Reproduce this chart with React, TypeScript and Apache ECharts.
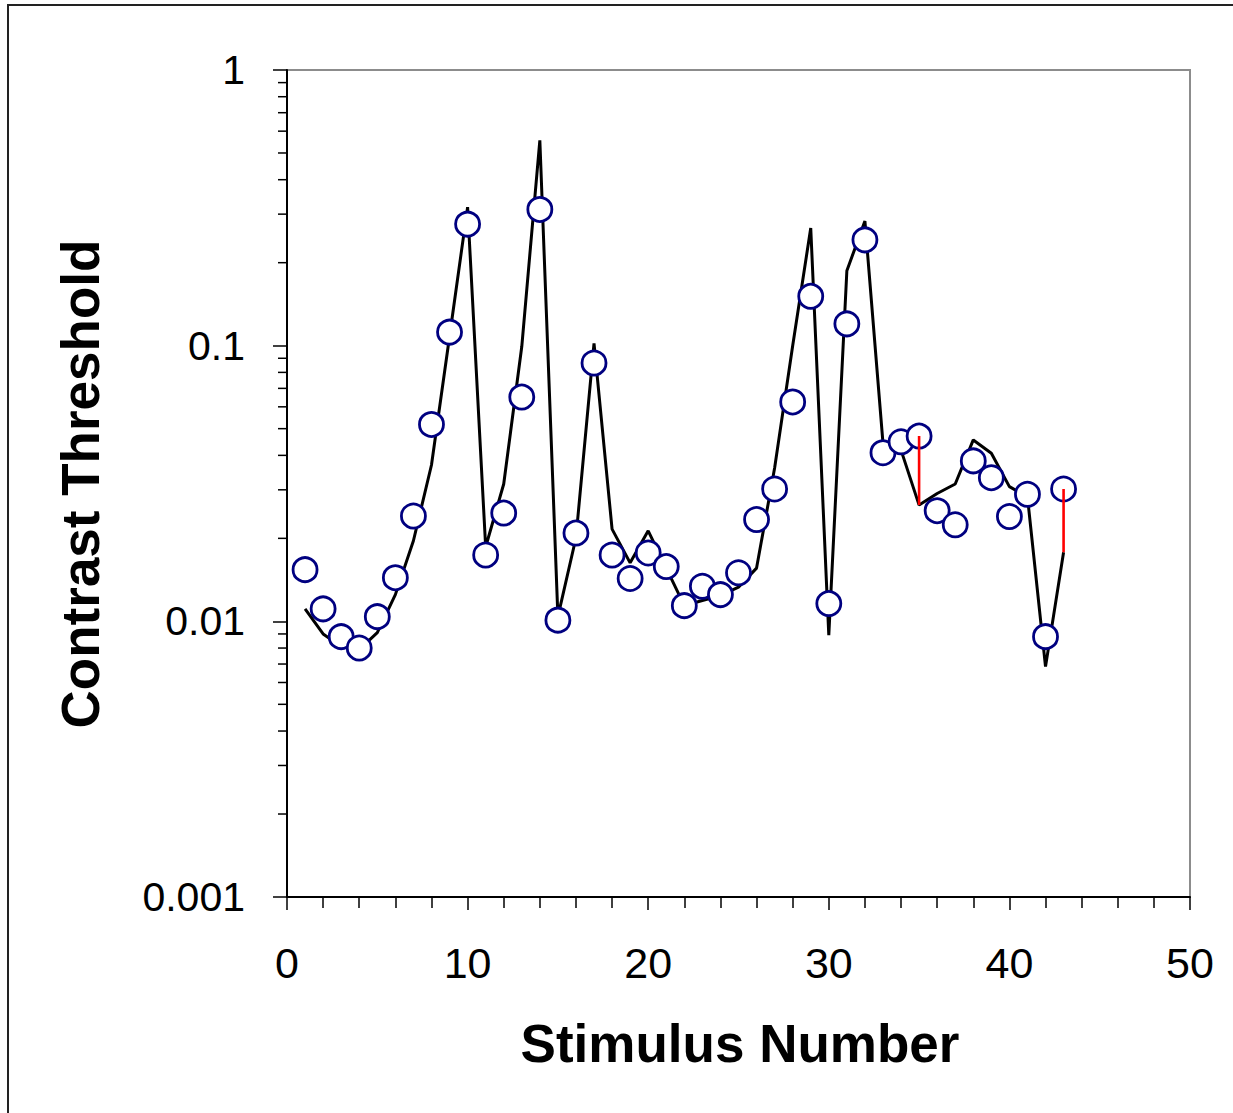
import React, { useEffect, useRef } from "react";
import * as echarts from "echarts";

// Stimulus numbers (x)
const stimulus = [
  1, 2, 3, 4, 5, 6, 7, 8, 9, 10, 11, 12, 13, 14, 15, 16, 17, 18, 19, 20, 21,
  22, 23, 24, 25, 26, 27, 28, 29, 30, 31, 32, 33, 34, 35, 36, 37, 38, 39, 40,
  41, 42, 43,
];

// Measured contrast thresholds (open circles)
const measuredThreshold = [
  0.0154, 0.0111, 0.0088, 0.0080, 0.0104, 0.0144, 0.0241, 0.0518, 0.112,
  0.276, 0.0174, 0.0247, 0.0651, 0.312, 0.0101, 0.0209, 0.0865, 0.0174,
  0.0143, 0.0177, 0.0158, 0.0114, 0.0134, 0.0125, 0.0150, 0.0234, 0.0302,
  0.0625, 0.151, 0.0116, 0.120, 0.242, 0.0409, 0.0448, 0.0470, 0.0252,
  0.0224, 0.0382, 0.0332, 0.0240, 0.0289, 0.0088, 0.0302,
];

// Model prediction (black line)
const modelThreshold = [
  0.0111, 0.0090, 0.0081, 0.0079, 0.0091, 0.0125, 0.0196, 0.0369, 0.108,
  0.318, 0.0186, 0.0315, 0.0993, 0.556, 0.0104, 0.0201, 0.102, 0.0216,
  0.0163, 0.0213, 0.0156, 0.0114, 0.0119, 0.0124, 0.0133, 0.0156, 0.0360,
  0.100, 0.267, 0.0089, 0.187, 0.283, 0.0443, 0.0418, 0.0264, 0.0291,
  0.0315, 0.0455, 0.0407, 0.0308, 0.0283, 0.00685, 0.0178,
];

// Stimuli whose residual is marked in red
const flaggedStimuli = [35, 43];

const xTickLabels = ["0", "10", "20", "30", "40", "50"];
const yTickLabels = ["0.001", "0.01", "0.1", "1"];

const FONT = "'Liberation Sans', Arial, Helvetica, sans-serif";

export default function App() {
  const ref = useRef<HTMLDivElement>(null);

  useEffect(() => {
    if (!ref.current) return;
    const chart = echarts.init(ref.current, undefined, { renderer: "svg" });

    const measured = stimulus.map((x, i) => [x, measuredThreshold[i]]);
    const model = stimulus.map((x, i) => [x, modelThreshold[i]]);
    const residual: any[] = [];
    flaggedStimuli.forEach((s) => {
      const i = stimulus.indexOf(s);
      residual.push([s, measuredThreshold[i]]);
      residual.push([s, modelThreshold[i]]);
      residual.push([s, "-"]);
    });

    const minorTicks: number[][] = [];
    [0.001, 0.01, 0.1].forEach((d) => {
      for (let k = 2; k <= 9; k++) minorTicks.push([0, d * k]);
    });

    chart.setOption({
      animation: false,
      backgroundColor: "#ffffff",
      grid: {
        left: 287,
        top: 70,
        right: 43,
        bottom: 216,
        show: true,
        borderColor: "#8c8c8c",
        borderWidth: 2,
        backgroundColor: "transparent",
      },
      xAxis: {
        type: "value",
        min: 0,
        max: 50,
        interval: 10,
        axisLine: { show: true, onZero: false, lineStyle: { color: "#000", width: 2 } },
        axisTick: { show: true, inside: false, length: 13, lineStyle: { color: "#000", width: 1.5 } },
        minorTick: { show: true, splitNumber: 5, length: 11, lineStyle: { color: "#000", width: 1.5 } },
        splitLine: { show: false },
        minorSplitLine: { show: false },
        axisLabel: {
          margin: 44,
          fontSize: 43,
          fontFamily: FONT,
          color: "#000",
          formatter: (v: number) => xTickLabels[Math.round(v / 10)] ?? String(v),
        },
      },
      yAxis: {
        type: "log",
        logBase: 10,
        min: 0.001,
        max: 1,
        axisLine: { show: true, onZero: false, lineStyle: { color: "#000", width: 2 } },
        axisTick: { show: true, inside: false, length: 14, lineStyle: { color: "#000", width: 1.5 } },
        splitLine: { show: false },
        axisLabel: {
          margin: 42,
          fontSize: 41,
          fontFamily: FONT,
          color: "#000",
          formatter: (v: number) => yTickLabels[Math.round(Math.log10(v)) + 3] ?? String(v),
        },
      },
      graphic: [
        {
          type: "rect",
          shape: { x: 8, y: 5, width: 1240, height: 1130 },
          style: { fill: "none", stroke: "#222", lineWidth: 2 },
          silent: true,
          z: -10,
        },
        {
          type: "text",
          x: 740,
          y: 1043,
          style: {
            text: "Stimulus Number",
            font: `bold 53px ${FONT}`,
            fill: "#000",
            textAlign: "center",
            textVerticalAlign: "middle",
          },
        },
        {
          type: "text",
          x: 80,
          y: 484,
          rotation: Math.PI / 2,
          style: {
            text: "Contrast Threshold",
            font: `bold 53px ${FONT}`,
            fill: "#000",
            textAlign: "center",
            textVerticalAlign: "middle",
          },
        },
      ],
      series: [
        {
          type: "custom",
          coordinateSystem: "cartesian2d",
          clip: false,
          silent: true,
          data: minorTicks,
          renderItem: (params: any, api: any) => {
            const p = api.coord([0, api.value(1)]);
            return {
              type: "line",
              shape: { x1: p[0] - 9, y1: p[1], x2: p[0], y2: p[1] },
              style: { stroke: "#000", lineWidth: 1.5 },
            };
          },
          z: 1,
        },
        {
          name: "Model",
          type: "line",
          data: model,
          showSymbol: false,
          symbol: "none",
          lineStyle: { color: "#000", width: 3 },
          z: 2,
        },
        {
          name: "Measured",
          type: "scatter",
          data: measured,
          symbol: "circle",
          symbolSize: 24,
          itemStyle: { color: "#fff", borderColor: "#000080", borderWidth: 2.8, opacity: 1 },
          z: 3,
        },
        {
          name: "Residual",
          type: "line",
          data: residual,
          showSymbol: false,
          symbol: "none",
          connectNulls: false,
          lineStyle: { color: "#ff0000", width: 2.6 },
          z: 4,
        },
      ],
    });

    return () => chart.dispose();
  }, []);

  return (
    <div
      ref={ref}
      style={{ position: "absolute", left: 0, top: 0, width: 1233, height: 1113 }}
    />
  );
}
